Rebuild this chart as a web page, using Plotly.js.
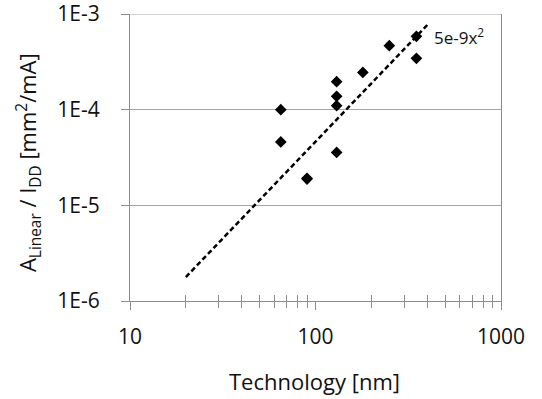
<!DOCTYPE html>
<html>
<head>
<meta charset="utf-8">
<script src="https://cdn.plot.ly/plotly-3.0.1.min.js"></script>
<style>html,body{margin:0;padding:0;background:#fff;}#chart{width:542px;height:399px;}</style>
</head>
<body>
<div id="chart"></div>
<script>
// Technology node [nm]
var techNm = [65, 65, 90, 90, 130, 130, 130, 130, 180, 250, 350, 350];
// A_Linear / I_DD [mm^2/mA]
var areaPerCurrent = [1.0e-4, 4.6e-5, 1.88e-5, 1.92e-5, 1.96e-4, 1.38e-4, 1.1e-4, 3.57e-5, 2.45e-4, 4.67e-4, 5.85e-4, 3.44e-4];
// trend line 5e-9 x^2 endpoints as drawn
var trendX = [20, 410];
var trendY = [1.78e-6, 8.05e-4];
var trendLabel = "5e-9x<sup>2</sup>";
var yTickVals = [1e-6, 1e-5, 1e-4, 1e-3];
var yTickText = ["1E-6", "1E-5", "1E-4", "1E-3"];
var xTickVals = [10, 100, 1000];
var xTickText = ["10", "100", "1000"];
var xMinorVals = [20,30,40,50,60,70,80,90,200,300,400,500,600,700,800,900];
var xTitle = "Technology [nm]";
var yTitle = "A<sub>Linear</sub> / I<sub>DD</sub> [mm<sup>2</sup>/mA]";

var font = "Open Sans, DejaVu Sans, sans-serif";
var textColor = "#111";
var axisGray = "#8c8c8c";
var gridGray = "#a6a6a6";

var traces = [
  {x: trendX, y: trendY, type: "scatter", mode: "lines",
   line: {color: "#000", width: 2.5, dash: "5px,3px"}, hoverinfo: "skip"},
  {x: techNm, y: areaPerCurrent, type: "scatter", mode: "markers",
   marker: {symbol: "diamond", size: 9, color: "#000"}},
  {x: [10, 1000], y: [1e-6, 1e-6], xaxis: "x2", yaxis: "y", mode: "lines",
   line: {width: 0}, hoverinfo: "skip", showlegend: false}
];

var layout = {
  width: 542, height: 399,
  margin: {l: 130, r: 41, t: 14, b: 98},
  paper_bgcolor: "#fff", plot_bgcolor: "#fff",
  showlegend: false,
  font: {family: font, color: textColor, size: 17},
  xaxis: {
    type: "log", range: [1, 3],
    tickvals: xTickVals, ticktext: xTickText,
    ticks: "outside", ticklen: 8, tickcolor: axisGray, tickwidth: 1,
    minor: {tickvals: xMinorVals, ticks: "outside", ticklen: 6, tickcolor: axisGray, showgrid: false},
    showline: true, linecolor: axisGray, linewidth: 1,
    showgrid: false, zeroline: false,
    tickfont: {size: 21, family: font, color: textColor},
    ticklabelstandoff: 9, ticklabeloverflow: "allow"
  },
  xaxis2: {
    type: "log", range: [1, 3], overlaying: "x", anchor: "y", side: "bottom",
    tickvals: [], ticks: "",
    minor: {tickvals: xMinorVals, ticks: "inside", ticklen: 6, tickcolor: axisGray, showgrid: false},
    showticklabels: false, showgrid: false, showline: false, zeroline: false
  },
  yaxis: {
    type: "log", range: [-6, -3],
    tickvals: yTickVals, ticktext: yTickText,
    ticks: "outside", ticklen: 8, tickcolor: axisGray,
    showline: true, linecolor: axisGray, linewidth: 1, mirror: true,
    showgrid: true, gridcolor: gridGray, gridwidth: 1, zeroline: false,
    tickfont: {size: 21, family: font, color: textColor},
    ticklabelstandoff: 17, ticklabeloverflow: "allow"
  },
  shapes: [
    {type: "line", xref: "paper", yref: "y", x0: 0, x1: 1, y0: 1e-3, y1: 1e-3,
     line: {color: gridGray, width: 1}}
  ],
  annotations: [
    {text: trendLabel, xref: "x", yref: "y", x: Math.log10(425), y: Math.log10(5.85e-4),
     xanchor: "left", yanchor: "middle", showarrow: false,
     font: {size: 17, family: font, color: textColor}},
    {text: xTitle, xref: "paper", yref: "paper", x: 0.497, y: -0.278,
     xanchor: "center", yanchor: "middle", showarrow: false,
     font: {size: 22, family: font, color: textColor}},
    {text: yTitle, xref: "paper", yref: "paper", x: -0.275, y: 0.484, textangle: -90,
     xanchor: "center", yanchor: "middle", showarrow: false,
     font: {size: 22, family: font, color: textColor}}
  ]
};

Plotly.newPlot("chart", traces, layout, {displayModeBar: false, staticPlot: true});
</script>
</body>
</html>
